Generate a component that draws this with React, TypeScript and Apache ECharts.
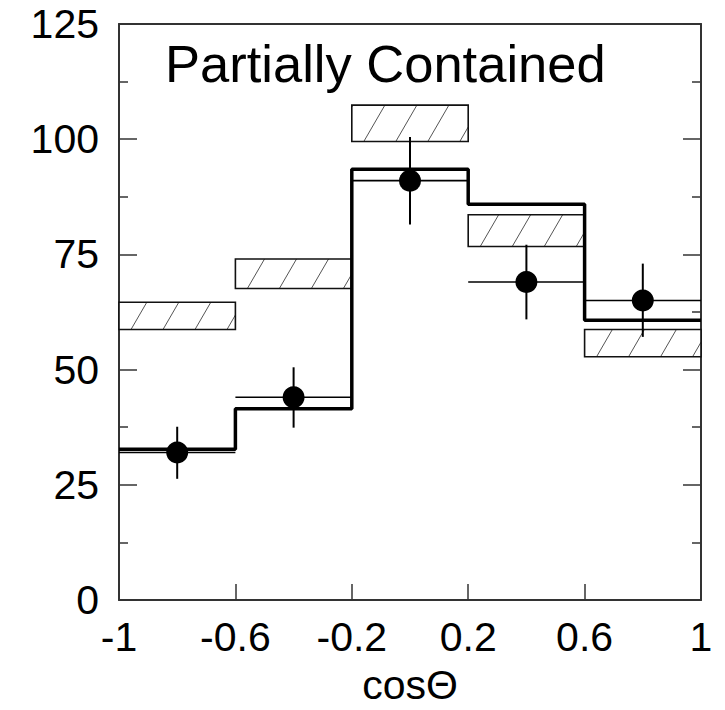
import React, { useEffect, useRef } from "react";
import * as echarts from "echarts";

const binEdges = [-1, -0.6, -0.2, 0.2, 0.6, 1];
const binCenters = [-0.8, -0.4, 0, 0.4, 0.8];
const dataValues = [32, 44, 91, 69, 65];
const dataErrLow = [26.3, 37.4, 81.5, 60.9, 57.1];
const dataErrHigh = [37.6, 50.5, 100.5, 77.1, 73.0];
const mcValues = [32.7, 41.5, 93.5, 85.9, 60.7];
const bandLow = [58.7, 67.6, 99.5, 76.7, 52.8];
const bandHigh = [64.6, 74.0, 107.4, 83.6, 58.7];

const titleText = "Partially Contained";
const xAxisName = "cosΘ";

const FONT = "'Liberation Sans', Arial, Helvetica, sans-serif";

export default function App() {
  const ref = useRef<HTMLDivElement>(null);

  useEffect(() => {
    if (!ref.current) return;
    const chart = echarts.init(ref.current, undefined, { renderer: "svg" });

    const stepData: number[][] = [];
    mcValues.forEach((v, i) => {
      stepData.push([binEdges[i], v]);
      stepData.push([binEdges[i + 1], v]);
    });

    const bandData = mcValues.map((_, i) => [binEdges[i], binEdges[i + 1], bandLow[i], bandHigh[i]]);
    const errData = dataValues.map((v, i) => [
      binEdges[i],
      binEdges[i + 1],
      binCenters[i],
      v,
      dataErrLow[i],
      dataErrHigh[i],
    ]);
    const pointData = dataValues.map((v, i) => [binCenters[i], v]);

    const option: any = {
      animation: false,
      backgroundColor: "#fff",
      title: {
        text: titleText,
        left: 165,
        top: 37,
        padding: 0,
        textStyle: { fontFamily: FONT, fontSize: 52.5, fontWeight: "normal", color: "#000" },
      },
      grid: { left: 119, right: 24, top: 24, bottom: 107 },
      xAxis: [
        {
          type: "value",
          min: -1,
          max: 1,
          interval: 0.4,
          position: "bottom",
          name: xAxisName,
          nameLocation: "middle",
          nameGap: 64,
          nameTextStyle: { fontFamily: FONT, fontSize: 41, color: "#000" },
          axisLine: { show: true, onZero: false, lineStyle: { color: "#333", width: 2 } },
          axisTick: { show: true, inside: true, length: 16, lineStyle: { color: "#333", width: 1.5 } },
          axisLabel: {
            margin: 16,
            fontFamily: FONT,
            fontSize: 41,
            color: "#000",
            formatter: (v: number) => String(Number(v.toFixed(1))),
          },
          splitLine: { show: false },
        },
        {
          type: "value",
          min: -1,
          max: 1,
          interval: 0.4,
          position: "top",
          axisLine: { show: true, onZero: false, lineStyle: { color: "#333", width: 2 } },
          axisTick: { show: false },
          axisLabel: { show: false },
          splitLine: { show: false },
        },
      ],
      yAxis: [
        {
          type: "value",
          min: 0,
          max: 125,
          interval: 25,
          position: "left",
          axisLine: { show: true, onZero: false, lineStyle: { color: "#333", width: 2 } },
          axisTick: { show: true, inside: true, length: 18, lineStyle: { color: "#333", width: 1.5 } },
          minorTick: { show: true, splitNumber: 2, length: 9, lineStyle: { color: "#333", width: 1.5 } },
          axisLabel: { margin: 20, fontFamily: FONT, fontSize: 41, color: "#000" },
          splitLine: { show: false },
        },
        {
          type: "value",
          min: 0,
          max: 125,
          interval: 25,
          position: "right",
          axisLine: { show: true, onZero: false, lineStyle: { color: "#333", width: 2 } },
          axisTick: { show: true, inside: true, length: 18, lineStyle: { color: "#333", width: 1.5 } },
          minorTick: { show: true, splitNumber: 2, length: 9, lineStyle: { color: "#333", width: 1.5 } },
          axisLabel: { show: false },
          splitLine: { show: false },
        },
      ],
      series: [
        {
          type: "custom",
          name: "band",
          z: 1,
          data: bandData,
          renderItem: (params: any, api: any) => {
            const p0 = api.coord([api.value(0), api.value(3)]);
            const p1 = api.coord([api.value(1), api.value(2)]);
            const x0 = p0[0], y0 = p0[1], x1 = p1[0], y1 = p1[1];
            const h = y1 - y0;
            const dx = h * 0.58;
            const spacing = 32;
            const offset = 12;
            const children: any[] = [
              {
                type: "rect",
                shape: { x: x0, y: y0, width: x1 - x0, height: h },
                style: { fill: "#fff", stroke: "none" },
              },
            ];
            for (let xb = x0 + offset - 2 * spacing; xb < x1; xb += spacing) {
              const tmin = Math.max(0, (x0 - xb) / dx);
              const tmax = Math.min(1, (x1 - xb) / dx);
              if (tmax > tmin) {
                children.push({
                  type: "line",
                  shape: {
                    x1: xb + tmin * dx,
                    y1: y1 - tmin * h,
                    x2: xb + tmax * dx,
                    y2: y1 - tmax * h,
                  },
                  style: { stroke: "#555", lineWidth: 1 },
                });
              }
            }
            children.push({
              type: "rect",
              shape: { x: x0, y: y0, width: x1 - x0, height: h },
              style: { fill: "none", stroke: "#111", lineWidth: 1.6 },
            });
            return { type: "group", children };
          },
        },
        {
          type: "line",
          name: "mc",
          z: 2,
          data: stepData,
          symbol: "none",
          lineStyle: { color: "#000", width: 3.5 },
        },
        {
          type: "custom",
          name: "errors",
          z: 3,
          data: errData,
          renderItem: (params: any, api: any) => {
            const a = api.coord([api.value(0), api.value(3)]);
            const b = api.coord([api.value(1), api.value(3)]);
            const lo = api.coord([api.value(2), api.value(4)]);
            const hi = api.coord([api.value(2), api.value(5)]);
            return {
              type: "group",
              children: [
                {
                  type: "line",
                  shape: { x1: a[0], y1: a[1], x2: b[0], y2: b[1] },
                  style: { stroke: "#000", lineWidth: 1.6 },
                },
                {
                  type: "line",
                  shape: { x1: lo[0], y1: lo[1], x2: hi[0], y2: hi[1] },
                  style: { stroke: "#000", lineWidth: 2 },
                },
              ],
            };
          },
        },
        {
          type: "scatter",
          name: "data",
          z: 4,
          data: pointData,
          symbol: "circle",
          symbolSize: 22,
          itemStyle: { color: "#000", opacity: 1 },
        },
      ],
    };

    chart.setOption(option);
    return () => chart.dispose();
  }, []);

  return (
    <div
      ref={ref}
      style={{ position: "fixed", left: 0, top: 0, width: 725, height: 710, background: "#fff" }}
    />
  );
}
